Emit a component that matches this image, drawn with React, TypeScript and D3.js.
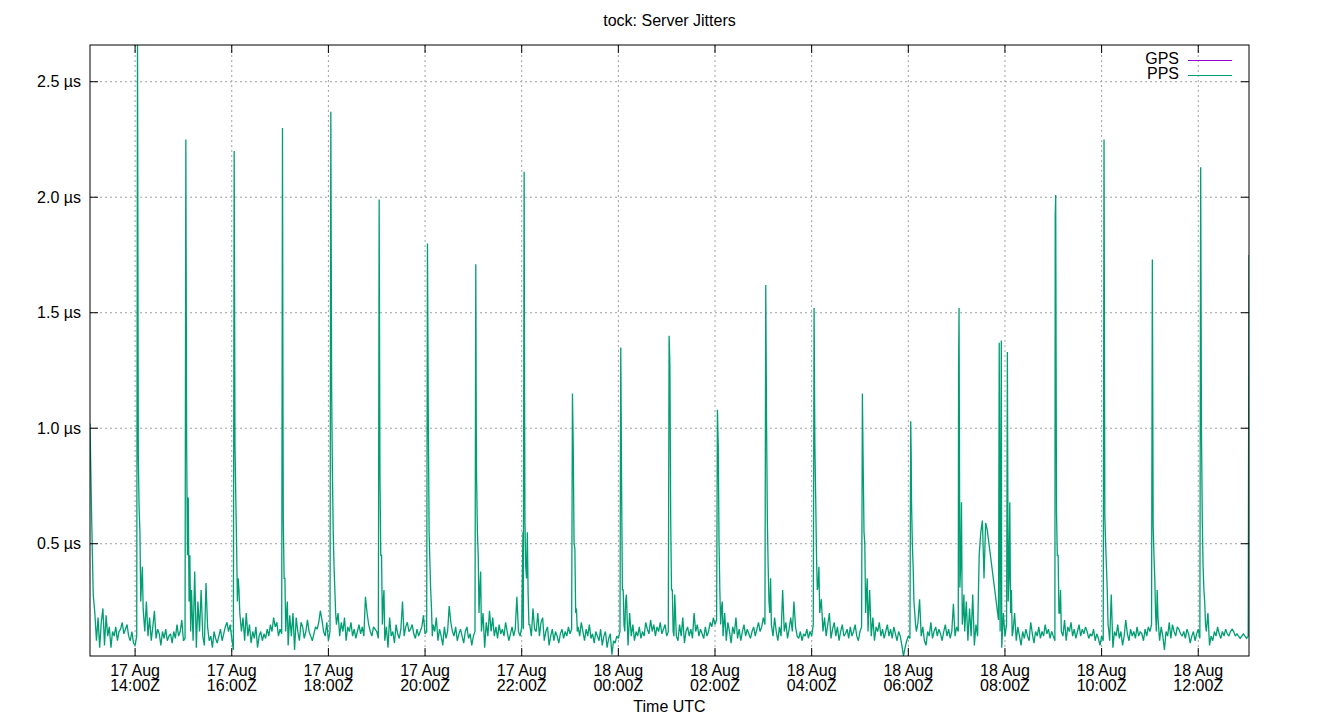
import React from "react";
import * as d3 from "d3";

// Time is minutes after 17 Aug 13:00Z. Baseline values every 2 minutes, from :04 to :02 of next hour.
const blockStartMinutes = [4, 64, 124, 184, 244, 304, 364, 424, 484, 544, 604, 664, 724, 784, 844, 904, 964, 1024, 1084, 1144, 1204, 1264, 1324, 1384];

const ppsBlocksA: (number | null)[][] = [
  [1.02, 0.62, 0.28, 0.2, 0.08, 0.18, 0.05, 0.16, 0.22, 0.06, 0.19, 0.1, 0.14, 0.05, 0.12, 0.1, 0.14, 0.08, 0.12, 0.13, 0.16, 0.11, 0.13, 0.15, 0.1, 0.08, 0.12, 0.07, 0.06, 0.1],
  [0.87, 0.55, 0.33, 0.22, 0.12, 0.25, 0.1, 0.18, 0.08, 0.14, 0.21, 0.09, 0.13, 0.11, 0.06, 0.12, 0.09, 0.13, 0.08, 0.1, 0.11, 0.07, 0.12, 0.09, 0.15, 0.1, 0.12, 0.17, 0.08, 0.09],
  [0.93, 0.7, 0.45, 0.3, 0.08, 0.38, 0.05, 0.25, 0.12, 0.3, 0.1, 0.06, 0.33, 0.14, 0.08, 0.1, 0.05, 0.12, 0.09, 0.07, 0.1, 0.13, 0.08, 0.11, 0.14, 0.16, 0.12, 0.15, 0.09, 0.04],
  [0.93, 0.5, 0.35, 0.2, 0.12, 0.18, 0.08, 0.2, 0.1, 0.15, 0.07, 0.12, 0.09, 0.14, 0.05, 0.1, 0.12, 0.08, 0.11, 0.09, 0.13, 0.1, 0.15, 0.12, 0.18, 0.14, 0.16, 0.1, 0.13, 0.11],
  [0.6, 0.35, 0.2, 0.06, 0.19, 0.1, 0.2, 0.04, 0.18, 0.12, 0.08, 0.16, 0.14, 0.09, 0.12, 0.17, 0.12, 0.1, 0.08, 0.11, 0.14, 0.13, 0.16, 0.21, 0.17, 0.12, 0.1, 0.16, 0.08, 0.12],
  [1.17, 0.55, 0.3, 0.15, 0.2, 0.1, 0.16, 0.12, 0.18, 0.08, 0.14, 0.12, 0.16, 0.1, 0.13, 0.09, 0.12, 0.15, 0.11, 0.14, 0.1, 0.27, 0.2, 0.15, 0.12, 0.1, 0.14, 0.13, 0.12, 0.09],
];

const ppsBlocksB: (number | null)[][] = [
  [0.8, 0.45, 0.25, 0.08, 0.14, 0.05, 0.18, 0.1, 0.12, 0.07, 0.15, 0.11, 0.09, 0.13, 0.25, 0.1, 0.14, 0.16, 0.12, 0.13, 0.15, 0.11, 0.09, 0.13, 0.1, 0.12, 0.14, 0.19, 0.11, 0.12],
  [1.07, 0.42, 0.22, 0.15, 0.12, 0.18, 0.08, 0.13, 0.1, 0.06, 0.14, 0.09, 0.12, 0.23, 0.16, 0.12, 0.1, 0.14, 0.08, 0.11, 0.13, 0.1, 0.07, 0.12, 0.14, 0.09, 0.11, 0.06, 0.1, 0.12],
  [0.78, 0.45, 0.3, 0.12, 0.2, 0.05, 0.16, 0.1, 0.21, 0.12, 0.18, 0.1, 0.14, 0.09, 0.15, 0.11, 0.13, 0.1, 0.16, 0.12, 0.08, 0.11, 0.14, 0.1, 0.13, 0.27, 0.12, 0.1, 0.14, 0.13],
  [0.6, 0.35, 0.28, 0.15, 0.1, 0.22, 0.13, 0.12, 0.2, 0.1, 0.16, 0.18, 0.08, 0.12, 0.14, 0.06, 0.1, 0.13, 0.08, 0.12, 0.1, 0.07, 0.11, 0.13, 0.09, 0.12, 0.1, 0.14, 0.11, 0.13],
  [0.92, 0.48, 0.22, 0.14, 0.1, 0.16, 0.12, 0.08, 0.13, 0.1, 0.15, 0.09, 0.11, 0.07, 0.12, 0.1, 0.08, 0.13, 0.06, 0.1, 0.12, 0.05, 0.09, 0.11, 0.02, 0.08, 0.07, 0.1, 0.09, 0.12],
  [0.76, 0.3, 0.12, 0.28, 0.06, 0.2, 0.1, 0.15, 0.08, 0.12, 0.1, 0.14, 0.09, 0.12, 0.1, 0.16, 0.13, 0.11, 0.17, 0.12, 0.15, 0.1, 0.14, 0.12, 0.16, 0.11, 0.13, 0.15, 0.1, 0.12],
];

const ppsBlocksC: (number | null)[][] = [
  [1.27, 0.3, 0.12, 0.28, 0.1, 0.08, 0.15, 0.1, 0.18, 0.07, 0.12, 0.14, 0.1, 0.13, 0.09, 0.2, 0.12, 0.15, 0.1, 0.13, 0.11, 0.09, 0.14, 0.1, 0.12, 0.16, 0.14, 0.18, 0.15, 0.17],
  [0.93, 0.3, 0.22, 0.1, 0.2, 0.08, 0.16, 0.12, 0.07, 0.14, 0.11, 0.18, 0.09, 0.13, 0.08, 0.12, 0.15, 0.1, 0.13, 0.11, 0.09, 0.12, 0.14, 0.1, 0.13, 0.16, 0.12, 0.14, 0.18, 0.15],
  [1.03, 0.4, 0.2, 0.15, 0.1, 0.18, 0.12, 0.08, 0.14, 0.1, 0.3, 0.12, 0.16, 0.09, 0.13, 0.18, 0.12, 0.25, 0.14, 0.1, 0.09, 0.12, 0.08, 0.11, 0.1, 0.13, 0.09, 0.12, 0.1, 0.15],
  [0.93, 0.45, 0.32, 0.2, 0.26, 0.12, 0.18, 0.1, 0.15, 0.2, 0.09, 0.13, 0.16, 0.1, 0.14, 0.08, 0.12, 0.15, 0.1, 0.11, 0.13, 0.09, 0.14, 0.1, 0.12, 0.15, 0.1, 0.08, 0.12, 0.14],
  [0.83, 0.5, 0.28, 0.12, 0.3, 0.1, 0.18, 0.08, 0.14, 0.12, 0.16, 0.1, 0.13, 0.09, 0.12, 0.15, 0.1, 0.13, 0.09, 0.14, 0.11, 0.08, 0.12, 0.1, 0.06, 0.014, 0.05, 0.08, 0.1, 0.09],
  [0.68, 0.4, 0.2, 0.12, 0.16, 0.26, 0.1, 0.14, 0.08, 0.06, 0.12, 0.1, 0.16, 0.09, 0.12, 0.14, 0.1, 0.13, 0.11, 0.08, 0.12, 0.15, 0.1, 0.13, 0.09, 0.12, 0.24, 0.1, 0.14, 0.12],
];

const ppsBlocksD: (number | null)[][] = [
  [0.31, 0.68, 0.2, 0.12, 0.25, 0.08, 0.22, 0.1, 0.28, 0.06, 0.15, 0.1, 0.45, 0.55, 0.6, 0.35, 0.59, 0.56, null, null, null, null, null, null, 0.17, 0.12, 0.05, 0.2, 0.1, 0.15],
  [0.25, 0.68, 0.3, 0.12, 0.2, 0.08, 0.14, 0.1, 0.06, 0.12, 0.09, 0.13, 0.1, 0.08, 0.16, 0.11, 0.07, 0.12, 0.1, 0.14, 0.09, 0.12, 0.1, 0.15, 0.11, 0.13, 0.09, 0.12, 0.1, 0.08],
  [0.64, 0.45, 0.2, 0.12, 0.1, 0.17, 0.08, 0.14, 0.12, 0.16, 0.1, 0.13, 0.09, 0.12, 0.15, 0.1, 0.13, 0.11, 0.14, 0.12, 0.09, 0.11, 0.1, 0.13, 0.08, 0.11, 0.09, 0.06, 0.1, 0.08],
  [0.62, 0.4, 0.15, 0.08, 0.28, 0.05, 0.12, 0.1, 0.15, 0.09, 0.12, 0.06, 0.1, 0.17, 0.11, 0.08, 0.13, 0.1, 0.12, 0.09, 0.14, 0.1, 0.12, 0.11, 0.08, 0.13, 0.1, 0.14, 0.12, 0.15],
  [0.58, 0.35, 0.12, 0.18, 0.08, 0.14, 0.1, 0.04, 0.12, 0.1, 0.16, 0.09, 0.15, 0.12, 0.1, 0.14, 0.13, 0.11, 0.1, 0.12, 0.09, 0.13, 0.11, 0.07, 0.1, 0.12, 0.08, 0.11, 0.13, 0.09],
  [0.98, 0.4, 0.25, 0.12, 0.2, 0.06, 0.1, 0.08, 0.12, 0.1, 0.14, 0.11, 0.09, 0.12, 0.1, 0.13, 0.11, 0.1, 0.12, 0.13, 0.12, 0.1, 0.11, 0.1, 0.09, 0.1, 0.11, 0.1, 0.09, 0.1],
];

// Sharp jitter spikes: [minutes after 13:00Z, µs]
const ppsSpikes: [number, number][] = [
  [63, 2.659], [123, 2.25], [123.6, 1.45], [183, 2.2], [243, 2.3], [243.6, 1.1],
  [303, 2.37], [363, 1.99], [423, 1.8], [483, 1.71], [483.6, 1.0], [541.5, 0.55], [543, 2.11], [543.6, 1.13],
  [603, 1.15], [663, 1.35], [723, 1.4], [783, 1.08], [843, 1.62], [903, 1.52], [963, 1.15],
  [1023, 1.03], [1023.6, 0.88], [1082.4, 1.25], [1083, 1.52], [1132.9, 1.37], [1135.5, 1.38], [1143, 1.33],
  [1202.4, 1.92], [1203, 2.01], [1263, 2.25], [1323, 1.73], [1383, 2.13], [1443, 1.75],
];

// Odd-minute samples in the decay after each spike: [minutes after 13:00Z, µs]
const ppsDecay: [number, number][] = [
  [65, 0.65], [67, 0.25], [69, 0.4], [125, 0.45], [127, 0.25], [129, 0.12],
  [185, 0.7], [187, 0.25], [189, 0.3], [245, 0.35], [247, 0.12], [249, 0.25],
  [305, 0.8], [307, 0.4], [309, 0.2], [365, 0.45], [367, 0.15], [369, 0.3],
  [425, 0.55], [427, 0.3], [429, 0.1], [485, 0.55], [487, 0.2], [489, 0.38],
  [545, 0.4], [547, 0.55], [549, 0.15], [605, 0.5], [607, 0.2], [609, 0.12],
  [665, 0.3], [667, 0.15], [669, 0.25], [725, 0.6], [727, 0.3], [729, 0.1],
  [785, 0.5], [787, 0.15], [789, 0.25], [845, 0.6], [847, 0.25], [849, 0.35],
  [905, 0.7], [907, 0.3], [909, 0.4], [965, 0.55], [967, 0.2], [969, 0.35],
  [1025, 0.5], [1027, 0.25], [1029, 0.15], [1085, 0.4], [1087, 0.15], [1089, 0.28],
  [1145, 0.35], [1147, 0.2], [1149, 0.1], [1205, 0.45], [1207, 0.2], [1209, 0.3],
  [1265, 0.5], [1267, 0.3], [1269, 0.12], [1325, 0.45], [1327, 0.2], [1329, 0.3],
  [1385, 0.6], [1387, 0.3], [1389, 0.15],
];

const yTicks = [0.5, 1.0, 1.5, 2.0, 2.5];
const seriesNames = ["GPS", "PPS"];
const seriesColors = ["#9400d3", "#009e73"];
const baseTime = Date.UTC(2023, 7, 17, 13, 0, 0);

const W = 1340, H = 720;
const M = { left: 90, right: 1249, top: 45, bottom: 656 };

function buildSeries() {
  const blocks = [...ppsBlocksA, ...ppsBlocksB, ...ppsBlocksC, ...ppsBlocksD];
  const pts: [number, number][] = [];
  blocks.forEach((blk, bi) => {
    blk.forEach((v, i) => {
      if (v !== null) pts.push([blockStartMinutes[bi] + i * 2, v]);
    });
  });
  ppsSpikes.forEach((p) => pts.push(p));
  ppsDecay.forEach((p) => pts.push(p));
  pts.sort((a, b) => a[0] - b[0]);
  return pts.map(([m, v]) => ({ t: new Date(baseTime + m * 60000), v }));
}

export default function App() {
  const data = buildSeries();
  const x = d3.scaleUtc()
    .domain(d3.extent(data, (d) => d.t) as [Date, Date])
    .range([M.left, M.right]);
  const y = d3.scaleLinear()
    .domain(d3.extent(data, (d) => d.v) as [number, number])
    .range([M.bottom, M.top]);
  const xTicks = x.ticks(d3.utcHour.every(2) as any);
  const line = d3.line<{ t: Date; v: number }>().x((d) => x(d.t)).y((d) => y(d.v));
  const fmtDay = d3.utcFormat("%d %b");
  const fmtHour = d3.utcFormat("%H:%MZ");
  const font = "'Liberation Sans', Arial, sans-serif";
  const grid = "#a0a0a0";

  return (
    <svg width={W} height={H} style={{ position: "absolute", left: 0, top: 0, background: "#fff" }}
      fontFamily={font} fontSize={16}>
      <rect x={0} y={0} width={W} height={H} fill="#fff" />
      <text x={(M.left + M.right) / 2} y={26} textAnchor="middle" fontSize={16} fill="#000">tock: Server Jitters</text>
      {yTicks.map((t) => (
        <line key={"gy" + t} x1={M.left} x2={M.right} y1={y(t)} y2={y(t)} stroke={grid} strokeWidth={1} strokeDasharray="2,3" />
      ))}
      {xTicks.map((t, i) => (
        <line key={"gx" + i} x1={x(t)} x2={x(t)} y1={M.top} y2={M.bottom} stroke={grid} strokeWidth={1} strokeDasharray="2,3" />
      ))}
      <clipPath id="plotclip">
        <rect x={M.left} y={M.top} width={M.right - M.left} height={M.bottom - M.top} />
      </clipPath>
      <path d={line(data) || ""} fill="none" stroke={seriesColors[1]} strokeWidth={1.3} strokeLinejoin="miter" strokeMiterlimit={2} clipPath="url(#plotclip)" />
      <rect x={M.left} y={M.top} width={M.right - M.left} height={M.bottom - M.top} fill="none" stroke="#000" strokeWidth={1} />
      {yTicks.map((t) => (
        <g key={"ty" + t}>
          <line x1={M.left} x2={M.left + 8} y1={y(t)} y2={y(t)} stroke="#000" />
          <line x1={M.right} x2={M.right - 8} y1={y(t)} y2={y(t)} stroke="#000" />
          <text x={M.left - 9} y={y(t) + 5.5} textAnchor="end" fill="#000">{d3.format(".1f")(t) + " µs"}</text>
        </g>
      ))}
      {xTicks.map((t, i) => (
        <g key={"tx" + i}>
          <line x1={x(t)} x2={x(t)} y1={M.bottom} y2={M.bottom - 8} stroke="#000" />
          <line x1={x(t)} x2={x(t)} y1={M.top} y2={M.top + 8} stroke="#000" />
          <text x={x(t)} y={675.5} textAnchor="middle" fill="#000">{fmtDay(t)}</text>
          <text x={x(t)} y={690.5} textAnchor="middle" fill="#000">{fmtHour(t)}</text>
        </g>
      ))}
      <text x={(M.left + M.right) / 2} y={712} textAnchor="middle" fill="#000">Time UTC</text>
      {seriesNames.map((n, i) => (
        <g key={n}>
          <text x={1179} y={63.5 + i * 15} textAnchor="end" fill="#000">{n}</text>
          <line x1={1188} x2={1232} y1={60.5 + i * 15} y2={60.5 + i * 15} stroke={seriesColors[i]} strokeWidth={1} />
        </g>
      ))}
    </svg>
  );
}
